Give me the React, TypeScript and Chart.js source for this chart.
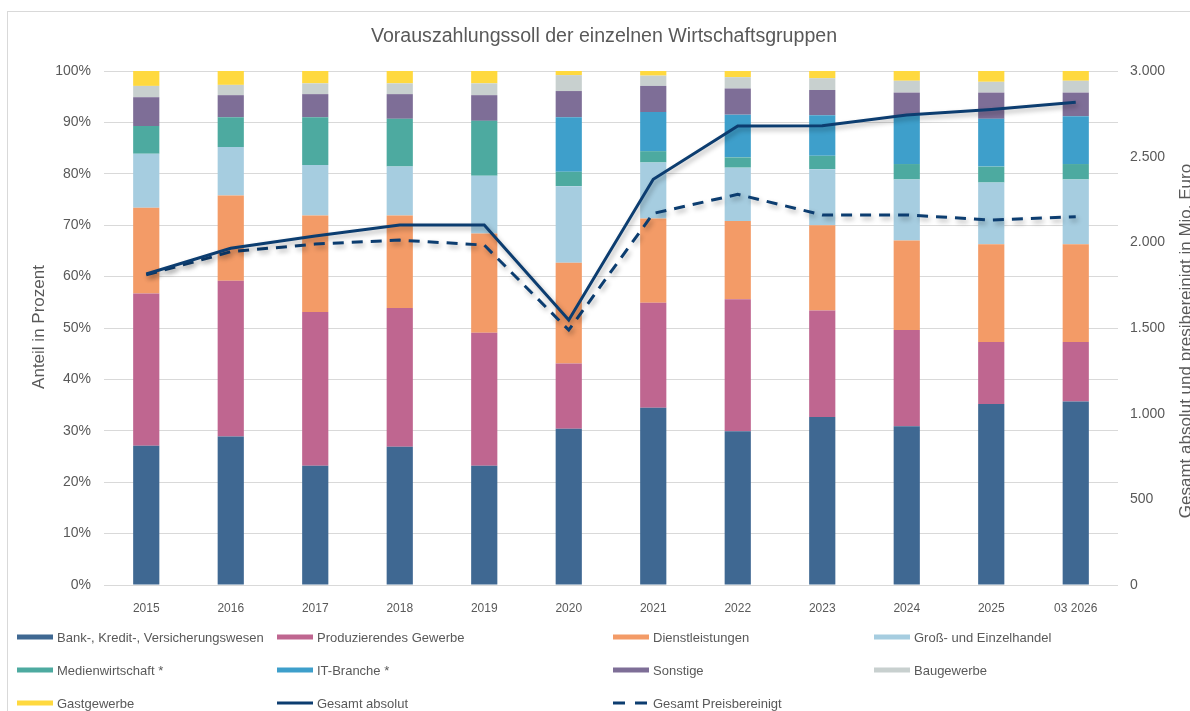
import React, { useEffect, useRef } from 'react';
import Chart from 'chart.js/auto';

const categories = ['2015', '2016', '2017', '2018', '2019', '2020', '2021', '2022', '2023', '2024', '2025', '03 2026'];

const bank = [27.1, 28.9, 23.2, 26.9, 23.2, 30.4, 34.5, 29.9, 32.7, 30.9, 35.2, 35.7];
const produzierend = [29.6, 30.3, 29.9, 27.0, 25.9, 12.7, 20.4, 25.7, 20.7, 18.7, 12.1, 11.6];
const dienstleistungen = [16.7, 16.6, 18.8, 18.0, 19.3, 19.6, 16.4, 15.2, 16.6, 17.4, 19.0, 19.0];
const handel = [10.5, 9.4, 9.8, 9.5, 11.2, 14.9, 10.9, 10.4, 10.9, 11.9, 12.0, 12.6];
const medien = [5.4, 5.8, 9.3, 9.3, 10.7, 2.8, 2.2, 2.0, 2.6, 3.0, 3.1, 3.0];
const itBranche = [0, 0, 0, 0, 0, 10.6, 7.6, 8.3, 7.9, 9.5, 9.3, 9.3];
const sonstige = [5.6, 4.3, 4.5, 4.8, 5.0, 5.1, 5.1, 5.1, 4.9, 4.4, 5.1, 4.6];
const baugewerbe = [2.2, 2.0, 2.1, 2.1, 2.3, 3.1, 2.0, 2.2, 2.3, 2.3, 2.1, 2.3];
const gastgewerbe = [2.9, 2.7, 2.4, 2.4, 2.4, 0.8, 0.9, 1.2, 1.4, 1.9, 2.1, 1.9];

const gesamtAbsolut = [1815, 1965, 2037, 2101, 2101, 1547, 2368, 2679, 2681, 2743, 2776, 2817];
const gesamtPreisbereinigt = [1810, 1945, 1990, 2013, 1984, 1488, 2169, 2280, 2160, 2160, 2130, 2150];

const leftTicksMax = 100;
const leftTicksStep = 10;
const rightTicksMax = 3000;
const rightTicksStep = 500;

const chartTitle = 'Vorauszahlungssoll der einzelnen Wirtschaftsgruppen';
const leftAxisTitle = 'Anteil in Prozent';
const rightAxisTitle = 'Gesamt absolut und presibereinigt in Mio. Euro';

const barSeries = [
  { label: 'Bank-, Kredit-, Versicherungswesen', data: bank, color: '#3F6892' },
  { label: 'Produzierendes Gewerbe', data: produzierend, color: '#BF6690' },
  { label: 'Dienstleistungen', data: dienstleistungen, color: '#F39B67' },
  { label: 'Groß- und Einzelhandel', data: handel, color: '#A6CDE0' },
  { label: 'Medienwirtschaft *', data: medien, color: '#4DAAA0' },
  { label: 'IT-Branche *', data: itBranche, color: '#3E9FCB' },
  { label: 'Sonstige', data: sonstige, color: '#7E6E97' },
  { label: 'Baugewerbe', data: baugewerbe, color: '#C8D0CF' },
  { label: 'Gastgewerbe', data: gastgewerbe, color: '#FFD93F' },
];

const FONT = "'Liberation Sans', Arial, sans-serif";
const TEXT = '#595959';
const GRID = '#D9D9D9';
const LINE = '#0C3D70';

function formatDe(v: number): string {
  return String(v).replace(/\B(?=(\d{3})+(?!\d))/g, '.');
}

const decorPlugin = {
  id: 'decor',
  beforeDraw(chart: any) {
    const ctx = chart.ctx;
    ctx.save();
    ctx.strokeStyle = GRID;
    ctx.lineWidth = 1;
    ctx.strokeRect(7.5, 11.5, 1400, 900);
    ctx.restore();
  },
  beforeDatasetDraw(chart: any, args: any) {
    const ds = chart.data.datasets[args.index];
    if (ds.type === 'line') {
      const ctx = chart.ctx;
      ctx.save();
      ctx.shadowColor = 'rgba(0,0,0,0.3)';
      ctx.shadowBlur = 5;
      ctx.shadowOffsetX = 2;
      ctx.shadowOffsetY = 3;
    }
  },
  afterDatasetDraw(chart: any, args: any) {
    const ds = chart.data.datasets[args.index];
    if (ds.type === 'line') chart.ctx.restore();
  },
  afterDraw(chart: any) {
    const ctx = chart.ctx;
    ctx.save();
    ctx.fillStyle = TEXT;
    ctx.textBaseline = 'middle';

    // title
    ctx.font = `19.6px ${FONT}`;
    ctx.textAlign = 'center';
    ctx.fillText(chartTitle, 604, 37);

    // axis titles
    ctx.font = `17px ${FONT}`;
    ctx.save();
    ctx.translate(39, 327);
    ctx.rotate(-Math.PI / 2);
    ctx.fillText(leftAxisTitle, 0, 0);
    ctx.restore();
    ctx.save();
    ctx.translate(1186, 341);
    ctx.rotate(-Math.PI / 2);
    ctx.fillText(rightAxisTitle, 0, 0);
    ctx.restore();

    // legend
    const colX = [17, 277, 613, 874];
    const rowY = [637, 670, 703];
    ctx.font = `13px ${FONT}`;
    ctx.textAlign = 'left';
    chart.data.datasets.forEach((ds: any, i: number) => {
      const x = colX[i % 4];
      const y = rowY[Math.floor(i / 4)];
      if (ds.type === 'bar') {
        ctx.fillStyle = ds.backgroundColor;
        ctx.fillRect(x, y - 2.5, 36, 5);
      } else {
        ctx.save();
        ctx.strokeStyle = ds.borderColor;
        ctx.lineWidth = 3;
        ctx.setLineDash(ds.borderDash && ds.borderDash.length ? [12, 10] : []);
        ctx.beginPath();
        ctx.moveTo(x, y);
        ctx.lineTo(x + 36, y);
        ctx.stroke();
        ctx.restore();
      }
      ctx.fillStyle = TEXT;
      ctx.fillText(ds.label, x + 40, y + 1);
    });
    ctx.restore();
  },
};

export default function App() {
  const canvasRef = useRef<HTMLCanvasElement | null>(null);

  useEffect(() => {
    document.body.style.margin = '0';
    document.body.style.overflow = 'hidden';
    const canvas = canvasRef.current;
    if (!canvas) return;

    const datasets: any[] = barSeries.map((s) => ({
      type: 'bar',
      label: s.label,
      data: s.data,
      backgroundColor: s.color,
      borderWidth: 0,
      stack: 'share',
      yAxisID: 'y',
      order: 2,
      barPercentage: 0.31,
      categoryPercentage: 1,
    }));
    datasets.push({
      type: 'line',
      label: 'Gesamt absolut',
      data: gesamtAbsolut,
      borderColor: LINE,
      backgroundColor: LINE,
      borderWidth: 3,
      pointRadius: 0,
      tension: 0,
      yAxisID: 'y1',
      order: 0,
    });
    datasets.push({
      type: 'line',
      label: 'Gesamt Preisbereinigt',
      data: gesamtPreisbereinigt,
      borderColor: LINE,
      backgroundColor: LINE,
      borderWidth: 3,
      borderDash: [11, 8],
      pointRadius: 0,
      tension: 0,
      yAxisID: 'y1',
      order: 1,
    });

    const chart = new Chart(canvas, {
      type: 'bar',
      data: { labels: categories, datasets },
      options: {
        responsive: false,
        animation: false,
        devicePixelRatio: 1,
        layout: { padding: { top: 71, left: 0, right: 0, bottom: 0 } },
        plugins: {
          legend: { display: false },
          title: { display: false },
          tooltip: { enabled: false },
        },
        scales: {
          x: {
            stacked: true,
            grid: { display: false },
            border: { display: false },
            ticks: { color: TEXT, font: { size: 12, family: FONT }, padding: 8, maxRotation: 0 },
            afterFit: (s: any) => { s.height = 126; },
          },
          y: {
            stacked: true,
            position: 'left',
            min: 0,
            max: leftTicksMax,
            ticks: {
              stepSize: leftTicksStep,
              color: TEXT,
              font: { size: 14, family: FONT },
              padding: 13,
              callback: (v: any) => `${v}%`,
            },
            grid: { color: GRID, drawTicks: false, lineWidth: 1 },
            border: { display: false },
            afterFit: (s: any) => { s.width = 104; },
          },
          y1: {
            position: 'right',
            min: 0,
            max: rightTicksMax,
            ticks: {
              stepSize: rightTicksStep,
              color: TEXT,
              font: { size: 14, family: FONT },
              padding: 12,
              callback: (v: any) => formatDe(Number(v)),
            },
            grid: { display: false, drawTicks: false },
            border: { display: false },
            afterFit: (s: any) => { s.width = 72; },
          },
        },
      } as any,
      plugins: [decorPlugin as any],
    });

    return () => chart.destroy();
  }, []);

  return (
    <div style={{ width: 1190, height: 711, position: 'relative', background: '#fff' }}>
      <canvas ref={canvasRef} width={1190} height={711} style={{ display: 'block' }} />
    </div>
  );
}
